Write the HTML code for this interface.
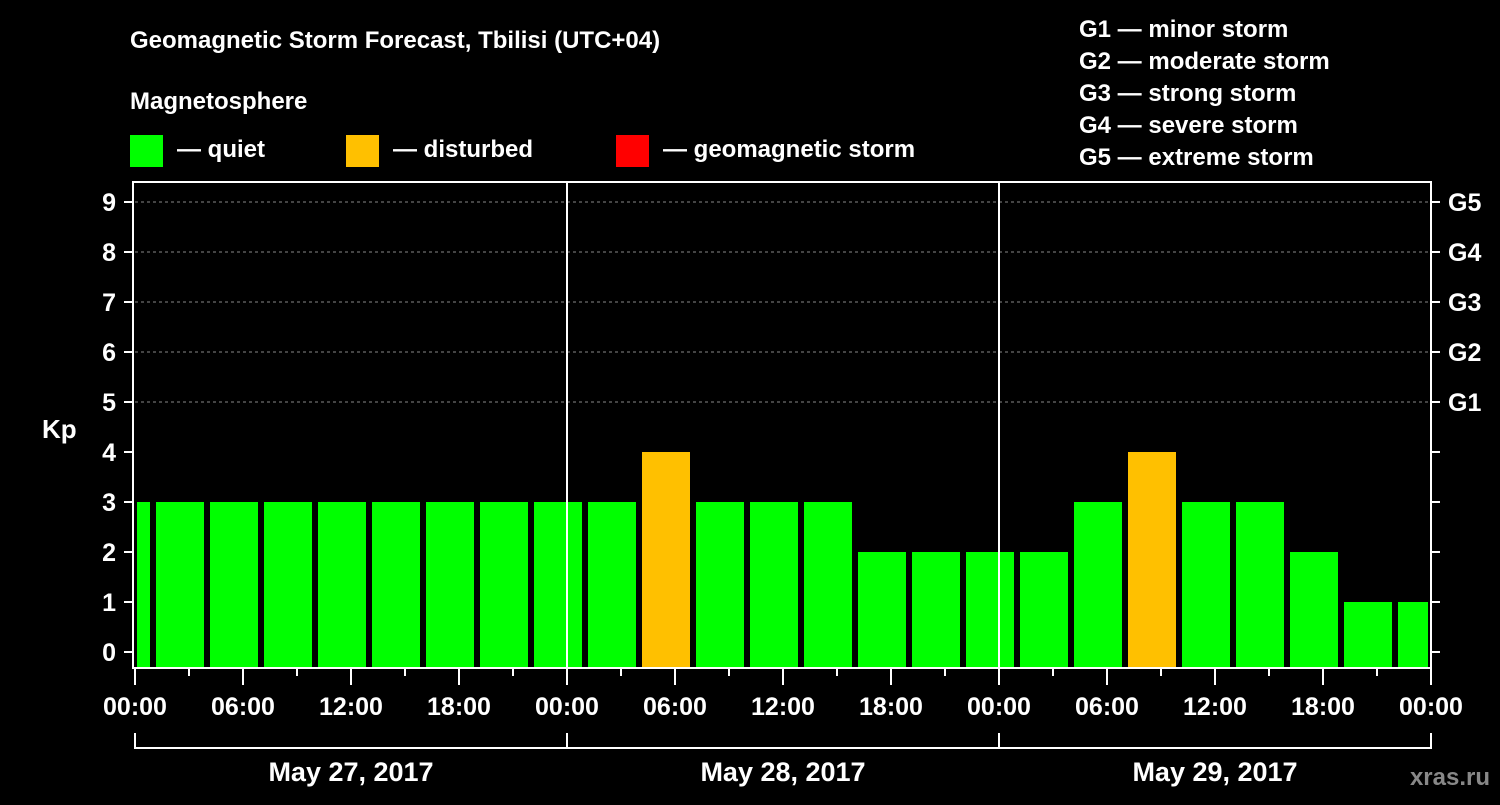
<!DOCTYPE html>
<html><head><meta charset="utf-8"><style>
body{margin:0;background:#000;width:1500px;height:800px;overflow:hidden}
svg{font-family:"Liberation Sans",sans-serif;font-weight:bold}
</style></head><body>
<svg id="c" width="1500" height="800">
<text x="130" y="48" fill="#fff" font-size="24">Geomagnetic Storm Forecast, Tbilisi (UTC+04)</text>
<text x="130" y="109" fill="#fff" font-size="24">Magnetosphere</text>
<g><rect x="130" y="135" width="33" height="32" fill="#00ff00"/><text x="177" y="157" fill="#fff" font-size="24">— quiet</text></g>
<g><rect x="346" y="135" width="33" height="32" fill="#ffc000"/><text x="393" y="157" fill="#fff" font-size="24">— disturbed</text></g>
<g><rect x="616" y="135" width="33" height="32" fill="#ff0000"/><text x="663" y="157" fill="#fff" font-size="24">— geomagnetic storm</text></g>
<g fill="#fff" font-size="24">
<text x="1079" y="37">G1 — minor storm</text><text x="1079" y="69">G2 — moderate storm</text><text x="1079" y="101">G3 — strong storm</text><text x="1079" y="133">G4 — severe storm</text><text x="1079" y="165">G5 — extreme storm</text></g>
<text x="42" y="438" fill="#fff" font-size="26">Kp</text>
<text x="1490" y="785" fill="#888" font-size="24" text-anchor="end">xras.ru</text>
<g id="plot"></g>
</svg>
<script>
const values=[3,3,3,3,3,3,3,3,3,3,4,3,3,3,2,2,2,2,3,4,3,3,2,1,1];
const startHour=-2;
const timeLabels=["00:00","06:00","12:00","18:00","00:00","06:00","12:00","18:00","00:00","06:00","12:00","18:00","00:00"];
const dateLabels=["May 27, 2017","May 28, 2017","May 29, 2017"];
const gLabels=["G1","G2","G3","G4","G5"];
const NS="http://www.w3.org/2000/svg";
const L=135,R=1431,T=182,B=668;
const x=h=>L+h*18;
const y=v=>652-v*50;
const p=document.getElementById('plot');
function mk(t,a,par){const e=document.createElementNS(NS,t);for(const k in a)e.setAttribute(k,a[k]);(par||p).appendChild(e);return e;}
// grid
for(let v=5;v<=9;v++){const e=mk('line',{x1:L,x2:R,y1:y(v),y2:y(v),stroke:'#888','stroke-dasharray':'3,3'});

}
// bars
values.forEach((v,i)=>{const h0=startHour+i*3;let x0=x(h0)+3,x1=x(h0+3)-3;x0=Math.max(x0,L+2);x1=Math.min(x1,R-3);
const c=v>=5?'#ff0000':(v>=4?'#ffc000':'#00ff00');
const r=mk('rect',{x:x0,y:y(v),width:x1-x0,height:B-y(v),fill:c});

});
// day separators
for(let d=1;d<3;d++){const e=mk('line',{x1:x(d*24),x2:x(d*24),y1:T,y2:B,stroke:'#fff','stroke-width':2});

}
// frame
const f=mk('rect',{x:133,y:T,width:R-133,height:B-T,fill:'none',stroke:'#fff','stroke-width':2});


// y ticks
for(let v=0;v<=9;v++){
mk('line',{x1:124,x2:133,y1:y(v),y2:y(v),stroke:'#fff','stroke-width':2});
mk('line',{x1:R,x2:R+9,y1:y(v),y2:y(v),stroke:'#fff','stroke-width':2});
const t=mk('text',{x:116,y:y(v)+9,fill:'#fff','font-size':25,'text-anchor':'end'});t.textContent=v;

}
gLabels.forEach((g,i)=>{const t=mk('text',{x:1448,y:y(5+i)+9,fill:'#fff','font-size':25});t.textContent=g;

});
// x ticks
for(let h=0;h<=72;h+=3){const major=h%6==0;mk('line',{x1:x(h),x2:x(h),y1:B,y2:B+(major?17:8),stroke:'#fff','stroke-width':2});}
timeLabels.forEach((s,i)=>{const t=mk('text',{x:x(i*6),y:715,fill:'#fff','font-size':25,'text-anchor':'middle'});t.textContent=s;

});
// date brackets
mk('path',{d:`M${x(0)} 733V748H${x(72)}V733M${x(24)} 733V748M${x(48)} 733V748`,fill:'none',stroke:'#fff','stroke-width':2});
dateLabels.forEach((s,i)=>{const t=mk('text',{x:x(i*24+12),y:781,fill:'#fff','font-size':27,'text-anchor':'middle'});t.textContent=s;

});
</script>
</body></html>
